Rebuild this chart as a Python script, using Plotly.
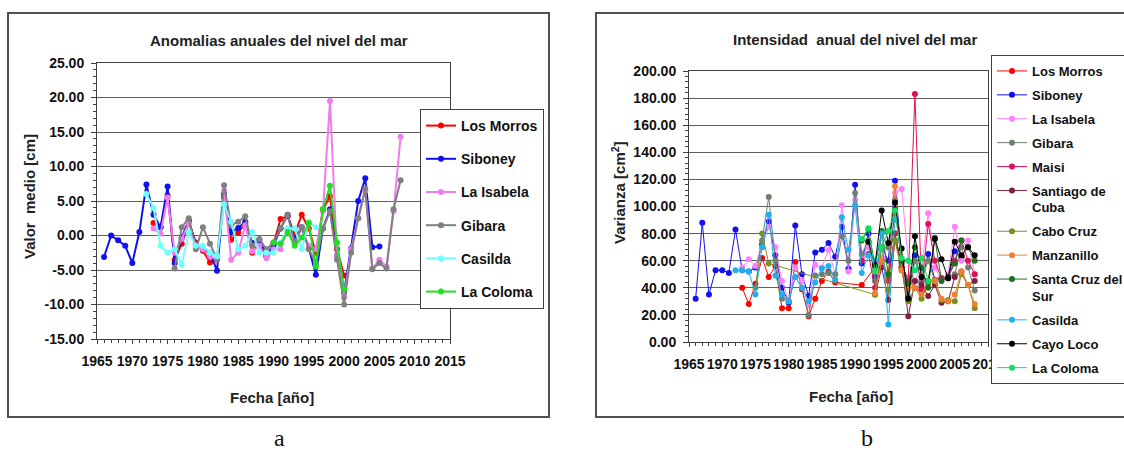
import plotly.graph_objects as go

W, H = 1124, 450

# ---------------- Panel a: Anomalias anuales del nivel del mar ----------------
a_los_morros_years = [1973, 1974, 1975, 1976, 1977, 1978, 1979, 1980, 1981, 1982, 1983, 1984, 1985, 1986,
                      1987, 1988, 1989, 1990, 1991, 1992, 1993, 1994, 1995, 1996, 1997, 1998, 1999, 2000]
a_los_morros = [1.8, 1.2, 5.8, -3.5, -1.2, 2.0, -1.0, -2.2, -3.9, -3.5, 5.5, -0.6, 0.4, 1.8,
                -2.5, -1.0, -3.0, -1.2, 2.4, 2.8, 0.2, 3.0, 1.0, -2.5, 3.8, 5.7, -2.0, -5.8]

a_siboney_years = list(range(1966, 2006))
a_siboney = [-3.1, 0.0, -0.7, -1.5, -4.0, 0.5, 7.4, 3.0, 1.2, 7.1,
             -4.0, -0.3, 2.2, -1.4, -2.0, -2.5, -5.1, 6.0, 0.5, 1.1,
             2.0, -1.1, -0.6, -2.9, -1.4, 1.0, 3.0, -0.5, 1.2, -1.8,
             -5.7, 1.0, 3.8, -3.0, -8.2, -1.9, 5.0, 8.3, -1.7, -1.6]

a_isabela_years = list(range(1973, 2009))
a_isabela = [1.0, 0.3, 5.5, -2.5, -0.5, 1.8, -1.5, -2.0, -3.0, -3.5,
             6.5, -3.5, -2.5, 1.5, -2.3, -1.5, -3.3, -2.0, -2.0, 1.0,
             -1.0, 1.0, -1.5, -2.0, 3.5, 19.5, -3.0, -9.0, -2.0, 2.5,
             6.5, -4.8, -3.5, -4.5, 3.5, 14.3]

a_gibara_years = list(range(1976, 2009))
a_gibara = [-4.8, 1.2, 2.5, -2.0, 1.2, -1.2, -3.5, 7.3, 1.5, 2.0,
            2.8, -1.5, -0.5, -2.0, -1.0, 1.0, 3.0, -1.0, 1.2, -2.0,
            -4.0, 1.0, 3.5, -3.5, -10.0, -2.5, 2.5, 6.8, -4.9, -4.0,
            -4.8, 3.8, 8.0]

a_casilda_years = list(range(1972, 1997))
a_casilda = [6.0, 4.0, -1.5, -2.5, -2.0, -4.2, 0.5, -1.5, -1.5, -2.5,
             -3.0, 4.5, 2.0, -2.0, -1.5, 0.5, -2.5, -2.5, -2.5, -1.0,
             1.0, 1.0, -2.0, 2.0, 1.2]

a_coloma_years = list(range(1990, 2001))
a_coloma = [-1.0, -1.2, 0.5, -1.5, -0.3, 1.8, -4.5, 3.8, 7.2, -1.0, -7.8]

a_series = [
    ("Los Morros", a_los_morros_years, a_los_morros, "#FF0000"),
    ("Siboney", a_siboney_years, a_siboney, "#1010F0"),
    ("La Isabela", a_isabela_years, a_isabela, "#F07CF0"),
    ("Gibara", a_gibara_years, a_gibara, "#808080"),
    ("Casilda", a_casilda_years, a_casilda, "#70FFFF"),
    ("La Coloma", a_coloma_years, a_coloma, "#22DD22"),
]
a_yticks = [-15, -10, -5, 0, 5, 10, 15, 20, 25]
a_yticklabels = [f"{v:.2f}" for v in a_yticks]
a_xticks = [1965, 1970, 1975, 1980, 1985, 1990, 1995, 2000, 2005, 2010, 2015]

# ---------------- Panel b: Intensidad anual del nivel del mar ----------------
b_los_morros_years = [1973, 1974, 1975, 1976, 1977, 1978, 1979, 1980, 1981, 1982, 1983, 1984, 1985, 1986,
                      1987, 1991, 1994, 1995, 1996, 1997, 1999, 2000]
b_los_morros = [40, 28, 43, 62, 48, 56, 25, 25, 59, 39, 19, 32, 45, 52, 44, 42, 62, 47, 80, 55, 40, 38]

b_siboney_years = list(range(1966, 2007))
b_siboney = [32, 88, 35, 53, 53, 51, 83, 53, 52, 55, 72, 89, 64, 40, 29, 86, 50, 34, 66, 68,
             73, 63, 85, 54, 116, 58, 80, 48, 70, 60, 119, 60, 33, 64, 45, 65, 46, 47, 47, 67, 63]

b_isabela_years = list(range(1973, 2009))
b_isabela = [55, 61, 56, 70, 85, 70, 45, 30, 55, 45, 27, 57, 55, 68, 50, 101, 52, 105, 64, 70,
             55, 62, 70, 110, 113, 60, 45, 55, 95, 55, 45, 50, 85, 60, 75, 50]

b_gibara_years = list(range(1976, 2009))
b_gibara = [75, 107, 60, 32, 30, 48, 40, 20, 49, 50, 51, 50, 78, 60, 110, 65, 75, 45, 80, 70,
            105, 55, 30, 60, 45, 60, 45, 47, 48, 50, 70, 55, 38]

b_maisi_years = list(range(1991, 2009))
b_maisi = [60, 65, 40, 60, 45, 80, 55, 45, 183, 40, 87, 60, 47, 48, 60, 75, 60, 50]

b_santiago_years = list(range(1993, 2009))
b_santiago = [35, 55, 31, 75, 58, 19, 45, 42, 34, 42, 29, 30, 48, 52, 42, 45]

b_cabo_years = [1975, 1976, 1977] + list(range(1993, 2009))
b_cabo = [40, 80, 58, 35, 70, 38, 75, 53, 30, 40, 32, 43, 46, 31, 31, 30, 50, 42, 25]

b_manzanillo_years = list(range(1993, 2009))
b_manzanillo = [36, 60, 50, 115, 53, 40, 40, 35, 45, 45, 32, 30, 35, 52, 42, 28]

b_santacruz_years = list(range(1991, 2009))
b_santacruz = [75, 83, 56, 82, 50, 98, 60, 43, 70, 55, 40, 77, 45, 48, 58, 75, 70, 60]

b_casilda_years = list(range(1972, 1997))
b_casilda = [53, 53, 52, 35, 70, 94, 49, 35, 30, 48, 40, 30, 44, 54, 56, 46, 92, 68, 101, 51,
             64, 60, 80, 13, 90]

b_cayo_years = list(range(1992, 2009))
b_cayo = [74, 57, 97, 73, 103, 69, 32, 78, 48, 45, 76, 61, 47, 74, 64, 70, 64]

b_coloma_years = list(range(1991, 2002))
b_coloma = [76, 84, 52, 70, 82, 97, 62, 60, 53, 62, 45]

b_series = [
    ("Los Morros", b_los_morros_years, b_los_morros, "#FF0000"),
    ("Siboney", b_siboney_years, b_siboney, "#1010F0"),
    ("La Isabela", b_isabela_years, b_isabela, "#FF80FF"),
    ("Gibara", b_gibara_years, b_gibara, "#708070"),
    ("Maisi", b_maisi_years, b_maisi, "#E0105A"),
    ("Santiago de<br>Cuba", b_santiago_years, b_santiago, "#802040"),
    ("Cabo Cruz", b_cabo_years, b_cabo, "#7F9020"),
    ("Manzanillo", b_manzanillo_years, b_manzanillo, "#F08030"),
    ("Santa Cruz del<br>Sur", b_santacruz_years, b_santacruz, "#206F20"),
    ("Casilda", b_casilda_years, b_casilda, "#20B0F0"),
    ("Cayo Loco", b_cayo_years, b_cayo, "#000000"),
    ("La Coloma", b_coloma_years, b_coloma, "#10E060"),
]
b_yticks = [0, 20, 40, 60, 80, 100, 120, 140, 160, 180, 200]
b_yticklabels = [f"{v:.2f}" for v in b_yticks]
b_xticks = [1965, 1970, 1975, 1980, 1985, 1990, 1995, 2000, 2005, 2010]

FONT = "Liberation Sans, Arial, sans-serif"
AX = "#404040"
GRID = "#606060"


def fx(px):
    return px / W


def fy(py):
    return 1 - py / H


fig = go.Figure()

for i, (name, xs, ys, col) in enumerate(a_series):
    fig.add_trace(go.Scatter(
        x=xs, y=ys, name=name, mode="lines+markers",
        line=dict(color=col, width=2), marker=dict(color=col, size=6),
        xaxis="x", yaxis="y", legend="legend", legendgroup=f"a{i}"))

for i, (name, xs, ys, col) in enumerate(b_series):
    fig.add_trace(go.Scatter(
        x=xs, y=ys, name=name, mode="lines+markers",
        line=dict(color=col, width=1), marker=dict(color=col, size=6),
        xaxis="x2", yaxis="y2", legend="legend2", legendgroup=f"b{i}"))


def tfont(size):
    return dict(family=FONT, size=size, color="#111111", weight="bold")


def xaxis_cfg(domain, rng, ticks, anchor, fsize):
    return dict(domain=domain, range=rng, tickmode="array", tickvals=ticks,
                ticktext=[str(t) for t in ticks], anchor=anchor, tickangle=0,
                showgrid=False, zeroline=False, showline=True, linecolor=AX, linewidth=1,
                mirror=True, ticks="outside", ticklen=4, tickcolor=AX,
                minor=dict(tickmode="linear", tick0=1965, dtick=1, ticks="outside",
                           ticklen=3, tickcolor=AX, showgrid=False),
                tickfont=tfont(fsize), ticklabelstandoff=5)


def yaxis_cfg(domain, rng, ticks, labels, minor_dt, anchor):
    return dict(domain=domain, range=rng, tickmode="array", tickvals=ticks, ticktext=labels,
                anchor=anchor, showgrid=True, gridcolor=GRID, gridwidth=1, zeroline=False,
                showline=True, linecolor=AX, linewidth=1, mirror=True,
                ticks="outside", ticklen=5, tickcolor=AX,
                minor=dict(tickmode="linear", tick0=rng[0], dtick=minor_dt, ticks="outside",
                           ticklen=3, tickcolor=AX, showgrid=False),
                tickfont=tfont(14), ticklabelstandoff=4)


fig.update_layout(
    width=W, height=H, margin=dict(l=0, r=0, t=0, b=0, autoexpand=False),
    paper_bgcolor="white", plot_bgcolor="#FFFFFE",
    xaxis=xaxis_cfg([fx(97), fx(450)], [1965, 2015], a_xticks, "y", 14),
    yaxis=yaxis_cfg([fy(339), fy(63)], [-15, 25], a_yticks, a_yticklabels, 1, "x"),
    xaxis2=xaxis_cfg([fx(689), fx(988)], [1965, 2010], b_xticks, "y2", 14),
    yaxis2=yaxis_cfg([fy(342), fy(71)], [0, 200], b_yticks, b_yticklabels, 4, "x2"),
    legend=dict(x=fx(420), y=fy(109), xanchor="left", yanchor="top",
                bgcolor="white", bordercolor=AX, borderwidth=1, font=tfont(14),
                traceorder="grouped", tracegroupgap=12, itemsizing="trace"),
    legend2=dict(x=fx(991), y=fy(55), xanchor="left", yanchor="top",
                 bgcolor="white", bordercolor=AX, borderwidth=1, font=tfont(13),
                 traceorder="grouped", tracegroupgap=4, itemsizing="trace", valign="top"),
    showlegend=True,
)

# outer frames of the two chart panels
fig.add_shape(type="rect", xref="paper", yref="paper", x0=fx(8), x1=fx(549), y0=fy(417), y1=fy(13),
              line=dict(color="#505050", width=2), layer="below")
fig.add_shape(type="rect", xref="paper", yref="paper", x0=fx(596), x1=fx(1140), y0=fy(417), y1=fy(13),
              line=dict(color="#505050", width=2), layer="below")

titlefont = dict(family=FONT, size=15, color="#222222", weight="bold")
axtitlefont = dict(family=FONT, size=15, color="#222222", weight="bold")
serif = dict(family="Liberation Serif, Times New Roman, serif", size=24, color="#111111")
texts = [
    ("Anomalias anuales del nivel del mar", 279, 40, titlefont, 0),
    ("Intensidad\u00a0 anual del nivel del mar", 855, 39, titlefont, 0),
    ("Valor\u00a0 medio [cm]", 29, 197, axtitlefont, -90),
    ("Varianza [cm<sup>2</sup>]", 618, 193, axtitlefont, -90),
    ("Fecha [año]", 272, 397, axtitlefont, 0),
    ("Fecha [año]", 851, 396, axtitlefont, 0),
    ("a", 279, 438, serif, 0),
    ("b", 867, 438, serif, 0),
]
for txt, x, y, f, ang in texts:
    fig.add_annotation(text=txt, x=fx(x), y=fy(y), xref="paper", yref="paper",
                       xanchor="center", yanchor="middle", showarrow=False, font=f, textangle=ang)

fig.write_html("out.html")
